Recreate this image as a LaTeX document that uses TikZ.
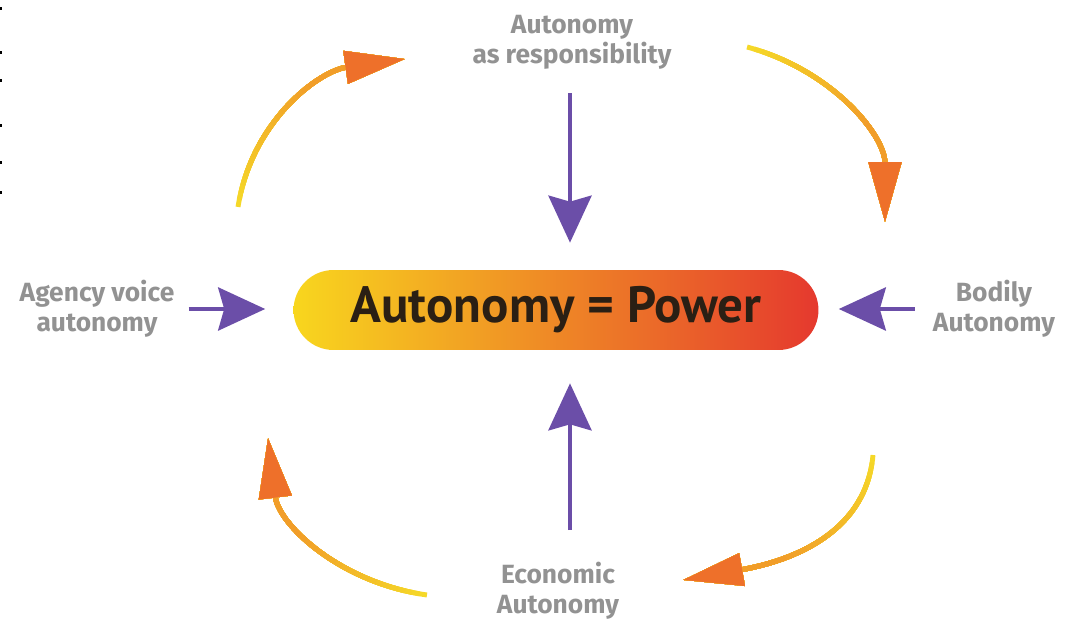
\documentclass[tikz,border=0pt]{standalone}
\usepackage{fontspec}
\setmainfont{PT Sans}
\newfontfamily\lblfont{Fira Sans}
\usetikzlibrary{arrows.meta}

\definecolor{pviolet}{RGB}{107,78,168}
\definecolor{lgray}{RGB}{146,146,146}
\definecolor{ptxt}{RGB}{42,31,20}
\definecolor{pyel}{RGB}{248,214,30}
\definecolor{porg}{RGB}{244,158,42}
\definecolor{pred}{RGB}{229,57,46}
\definecolor{cyel}{RGB}{245,216,40}
\definecolor{corg}{RGB}{238,112,42}

\tikzset{
  pill/.style={rounded corners=0.8cm, minimum width=10.5cm, minimum height=1.6cm,
    left color=pyel, middle color=porg, right color=pred,
    text=ptxt, font=\bfseries\fontsize{29}{32}\selectfont},
  lbl/.style={text=lgray, font=\lblfont\bfseries\fontsize{15}{17}\selectfont, align=center, inner sep=0pt},
  parr/.style={draw=pviolet, line width=2.6pt, -{Stealth[length=0.94cm,width=0.86cm,inset=0.12cm]}},
  carr/.style={line width=2.8pt, -{Triangle[length=1.2cm,width=0.64cm]}}
}

\begin{document}
\begin{tikzpicture}[x=0.02cm,y=0.02cm]
		\useasboundingbox (0,0) rectangle (1066,619);
		\foreach \y in {612,568,540,495,458,428} \fill (0,\y) rectangle (2.5,\y-3);

		\node[pill] (pw) at (556,309) {Autonomy = Power};
		\node[lbl] (resp) at (572,577) {Autonomy\\as responsibility};
		\node[lbl] (agency) at (97,310) {Agency voice\\autonomy};
		\node[lbl] (bodily) at (994,310) {Bodily\\Autonomy};
		\node[lbl] (econ) at (558,28) {Economic\\Autonomy};

		\draw[parr, shorten <=0.48cm, shorten >=0.54cm] ([xshift=-0.04cm]resp.south) -- ([xshift=-0.04cm]resp.south |- pw.north);
		\draw[parr, shorten <=0.64cm, shorten >=0.66cm] ([xshift=0.24cm]econ.north) -- ([xshift=0.24cm]econ.north |- pw.south);
		\draw[parr, shorten <=0.28cm, shorten >=0.56cm] (agency.east) -- (agency.east -| pw.west);
		\draw[parr, shorten <=0.36cm, shorten >=0.4cm] (bodily.west) -- (bodily.west -| pw.east);

		% cycle arrows, yellow tail to orange head
		\coordinate (c1a) at (238,412); \coordinate (c1b) at (405,560);
		\coordinate (c2a) at (747,572); \coordinate (c2b) at (885,397);
		\coordinate (c3a) at (873,164); \coordinate (c3b) at (683,39);
		\coordinate (c4a) at (427,24);  \coordinate (c4b) at (268,181);
		\foreach \s/\e/\o/\n in {c1a/c1b/81/188, c2a/c2b/-15/90, c3a/c3b/-95/10, c4a/c4b/172/-83}{
		  \foreach \k in {0,...,19}{
		    \pgfmathtruncatemacro\mix{100-3*\k}
		    \pgfmathsetmacro\off{0.001+0.15*\k}
		    \draw[carr, color=cyel!\mix!corg, dash pattern=on 0pt off \off cm on 20cm] (\s) to[out=\o,in=\n] (\e);
		  }
		  \draw[carr, color=corg, dash pattern=on 0pt off 20cm] (\s) to[out=\o,in=\n] (\e);
		}
\end{tikzpicture}
\end{document}
